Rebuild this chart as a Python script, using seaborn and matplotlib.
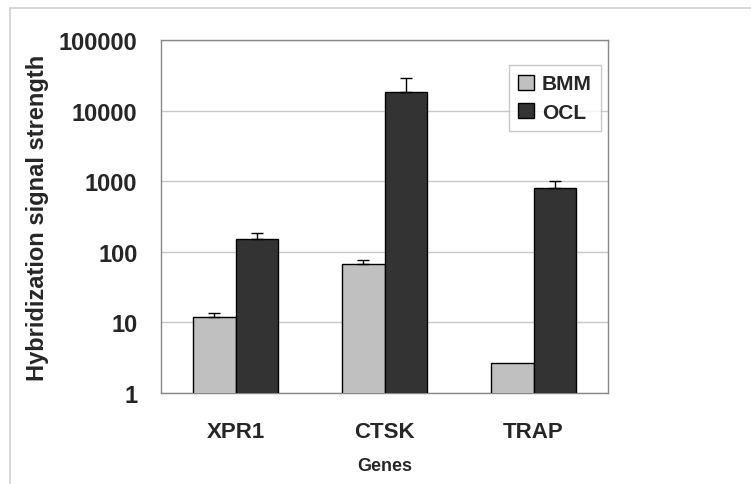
import numpy as np
import pandas as pd
import seaborn as sns
import matplotlib.pyplot as plt
from matplotlib.lines import Line2D
from matplotlib.ticker import FixedLocator, NullLocator, NullFormatter

# | Data |
genes = ["XPR1", "CTSK", "TRAP"]
groups = ["BMM", "OCL"]
bmm_values = [12.0, 67.0, 2.66]
ocl_values = [152.0, 18500.0, 800.0]
bmm_err = [1.7, 10.0, 0.0]
ocl_err = [34.0, 10200.0, 196.0]
y_ticks = [1, 10, 100, 1000, 10000, 100000]

df = pd.DataFrame({
    "gene": genes * 2,
    "group": ["BMM"] * 3 + ["OCL"] * 3,
    "value": bmm_values + ocl_values,
    "err": bmm_err + ocl_err,
})

sns.set_style("white")
plt.rcParams["font.family"] = ["Liberation Sans", "DejaVu Sans"]
plt.rcParams["font.weight"] = "bold"

fig = plt.figure(figsize=(7.51, 4.85), dpi=100)
ax = fig.add_axes([0.2144, 0.1876, 0.5952, 0.7278])

sns.barplot(data=df, x="gene", y="value", hue="group", order=genes, hue_order=groups,
            palette={"BMM": "#c0c0c0", "OCL": "#333333"}, width=0.57, gap=0,
            edgecolor="black", linewidth=1.0, errorbar=None, ax=ax, zorder=3)
ax.set_yscale("log")
ax.set_ylim(1, 100000)

# upward-only error bars, placed on the bars seaborn drew
for patch, (_, row) in zip(ax.patches, df.iterrows()):
    xc = patch.get_x() + patch.get_width() / 2
    top = patch.get_y() + patch.get_height()
    if row["err"] > 0:
        ax.errorbar(xc, top, yerr=[[0], [row["err"]]], fmt="none", ecolor="black",
                    elinewidth=1.0, capsize=4.5, capthick=1.0, zorder=4)

ax.yaxis.set_major_locator(FixedLocator(y_ticks))
ax.yaxis.set_minor_locator(NullLocator())
ax.yaxis.set_minor_formatter(NullFormatter())
ax.set_yticklabels([str(t) for t in y_ticks])
ax.grid(axis="y", color="#c8c8c8", linewidth=1.0, zorder=0)
ax.set_axisbelow(True)

ax.set_xlim(-0.5, 2.5)
ax.xaxis.set_minor_locator(FixedLocator([-0.5, 0.5, 1.5, 2.5]))
ax.tick_params(axis="x", which="major", length=0, pad=20, labelsize=16)
ax.tick_params(axis="x", which="minor", length=7, width=1, color="#888888", direction="out")
ax.tick_params(axis="y", which="major", length=8, width=1, color="#888888", direction="out",
               pad=9, labelsize=17)
for lbl in ax.get_xticklabels() + ax.get_yticklabels():
    lbl.set_fontweight("bold")

for sp in ax.spines.values():
    sp.set_visible(True)
    sp.set_color("#888888")
    sp.set_linewidth(1.0)

ax.set_xlabel("Genes", fontsize=13, fontweight="bold", labelpad=11)
ax.set_ylabel("Hybridization signal strength", fontsize=17, fontweight="bold", labelpad=7)

leg = ax.legend(loc="upper left", bbox_to_anchor=(0.778, 0.929), frameon=True,
                fontsize=15, handlelength=0.75, handleheight=0.75, handletextpad=0.4,
                borderpad=0.45, labelspacing=0.45, fancybox=False, borderaxespad=0)
leg.get_frame().set_edgecolor("#bbbbbb")
leg.get_frame().set_linewidth(1.0)
for t in leg.get_texts():
    t.set_fontweight("bold")
for h in leg.legend_handles:
    h.set_edgecolor("black")

# thin outer frame (top and left edge of the original image)
fig.add_artist(Line2D([10 / 751, 1.0], [1 - 9 / 485, 1 - 9 / 485], transform=fig.transFigure,
                      color="#d0d0d0", linewidth=1.2))
fig.add_artist(Line2D([10 / 751, 10 / 751], [0.0, 1 - 9 / 485], transform=fig.transFigure,
                      color="#d0d0d0", linewidth=1.2))

fig.savefig("out.png", dpi=100)
